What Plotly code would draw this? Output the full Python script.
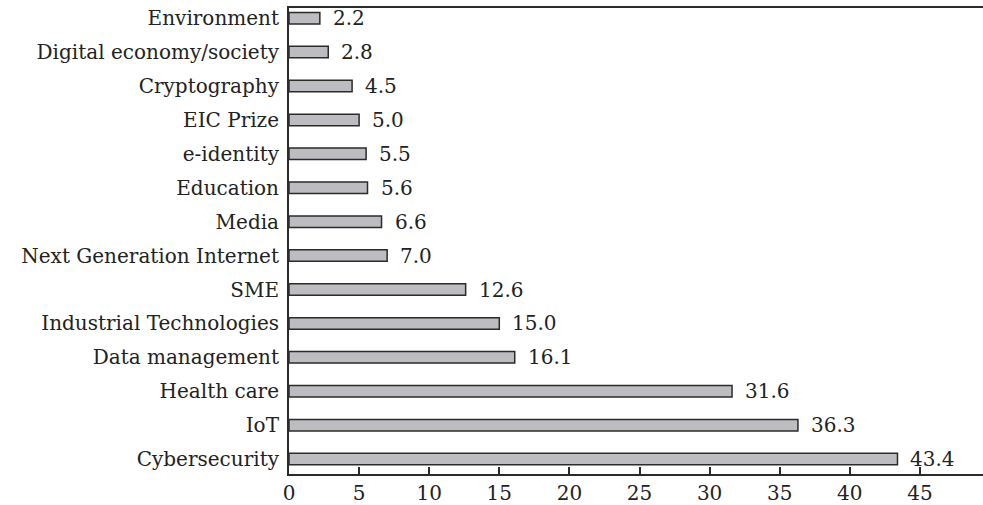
import plotly.graph_objects as go

categories = [
    "Cybersecurity", "IoT", "Health care", "Data management",
    "Industrial Technologies", "SME", "Next Generation Internet",
    "Media", "Education", "e-identity", "EIC Prize", "Cryptography",
    "Digital economy/society", "Environment",
]
values = [43.4, 36.3, 31.6, 16.1, 15.0, 12.6, 7.0, 6.6, 5.6, 5.5, 5.0, 4.5, 2.8, 2.2]
x_ticks = [0, 5, 10, 15, 20, 25, 30, 35, 40, 45]

FONT = "DejaVu Serif, Liberation Serif, serif"
INK = "#2b2b2b"

fig = go.Figure()

fig.add_trace(
    go.Bar(
        y=categories,
        x=values,
        orientation="h",
        width=0.34,
        marker=dict(color="#bdbdc1", line=dict(color=INK, width=1.5)),
        hoverinfo="skip",
    )
)

# value labels just right of each bar
for cat, v in zip(categories, values):
    fig.add_annotation(
        x=v, y=cat,
        text=f"{v:.1f}",
        showarrow=False,
        xanchor="left",
        yanchor="middle",
        xshift=11,
        font=dict(family=FONT, size=20, color="#222"),
    )

fig.update_layout(
    width=983,
    height=505,
    margin=dict(l=289, r=0, t=8, b=31),
    plot_bgcolor="white",
    paper_bgcolor="white",
    showlegend=False,
    font=dict(family=FONT, size=20, color="#222"),
)

fig.update_xaxes(
    range=[0, 49.5],
    tickvals=x_ticks,
    ticks="inside",
    ticklen=7,
    tickwidth=2,
    tickcolor=INK,
    showline=True,
    linecolor=INK,
    linewidth=2,
    mirror=True,
    showgrid=False,
    zeroline=False,
    automargin=False,
    ticklabelstandoff=0,
)

fig.update_yaxes(
    range=[-0.44, 13.3],
    showline=True,
    linecolor=INK,
    linewidth=2,
    showgrid=False,
    ticks="",
    automargin=False,
    ticklabelstandoff=4,
)

# the page's default 8px body margin would push the figure off-canvas
fig.write_html(
    "out.html",
    config={"displayModeBar": False},
    post_script="document.body.style.margin='0';document.body.style.overflow='hidden';",
)
